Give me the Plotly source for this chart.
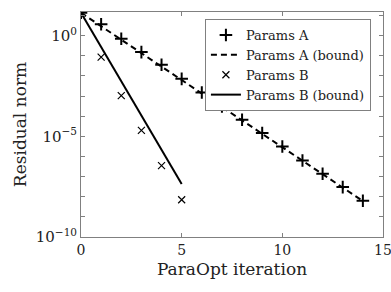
import plotly.graph_objects as go

iters_a = list(range(15))
resid_a = [13.5, 3.67, 0.69, 0.151, 0.0355, 0.0071, 0.00148, 0.000302, 6.6e-05, 1.45e-05, 3.1e-06, 6.3e-07, 1.38e-07, 3.0e-08, 6.3e-09]
bound_a = [13.5, 2.9, 0.62, 0.134, 0.0287, 0.0062, 0.00133, 0.000286, 6.1e-05, 1.32e-05, 2.84e-06, 6.1e-07, 1.31e-07, 2.82e-08, 6.1e-09]

iters_b = list(range(6))
resid_b = [13.5, 0.085, 0.00105, 1.95e-05, 3.5e-07, 7.1e-09]
bound_b = [13.5, 0.27, 0.0054, 0.000108, 2.15e-06, 4.3e-08]

font_family = "DejaVu Serif, Liberation Serif, serif"

fig = go.Figure()
fig.add_trace(go.Scatter(x=iters_a, y=resid_a, mode="markers", name="Params A",
                         marker=dict(symbol="cross-thin", size=9, line=dict(width=2, color="black"), color="black")))
fig.add_trace(go.Scatter(x=iters_a, y=bound_a, mode="lines", name="Params A (bound)",
                         line=dict(color="black", width=2, dash="6px,4px")))
fig.add_trace(go.Scatter(x=iters_b, y=resid_b, mode="markers", name="Params B",
                         marker=dict(symbol="x-thin", size=7, line=dict(width=1.2, color="black"), color="black")))
fig.add_trace(go.Scatter(x=iters_b, y=bound_b, mode="lines", name="Params B (bound)",
                         line=dict(color="black", width=2)))

axis_common = dict(showline=True, linecolor="#808080", linewidth=1, mirror="ticks",
                   ticks="inside", ticklen=4, tickcolor="#808080", showgrid=False, zeroline=False,
                   automargin=False, ticklabeloverflow="allow")

fig.update_xaxes(range=[0, 15], tickvals=[0, 5, 10, 15],
                 tickfont=dict(family=font_family, size=14, color="#222"),
                 title=dict(text="ParaOpt iteration", font=dict(family=font_family, size=17, color="#222"), standoff=6),
                 **axis_common)
fig.update_yaxes(type="log", range=[-10, 1.17], tickvals=[1e-10, 1e-5, 1],
                 ticktext=["10<sup>−10</sup>", "10<sup>−5</sup>", "10<sup>0</sup>"],
                 tickfont=dict(family=font_family, size=15, color="#222"),
                 minor=dict(tickmode="array", tickvals=[10.0 ** k for k in range(-9, 2) if k not in (-5, 0)],
                            ticks="inside", ticklen=4, tickcolor="#808080"),
                 title=dict(text="Residual norm", font=dict(family=font_family, size=17, color="#222"), standoff=4),
                 **axis_common)

fig.update_layout(
    width=391, height=292,
    margin=dict(l=81, r=8, t=12, b=55),
    paper_bgcolor="white", plot_bgcolor="white",
    font=dict(family=font_family, color="#222"),
    legend=dict(x=0.96, y=0.969, xanchor="right", yanchor="top",
                bgcolor="white", bordercolor="#808080", borderwidth=1,
                font=dict(family=font_family, size=13, color="#222"),
                tracegroupgap=0, itemwidth=30),
    showlegend=True,
)

fig.write_html("out.html", config={"displayModeBar": False},
               post_script="document.body.style.margin='0';document.body.style.overflow='hidden';")
